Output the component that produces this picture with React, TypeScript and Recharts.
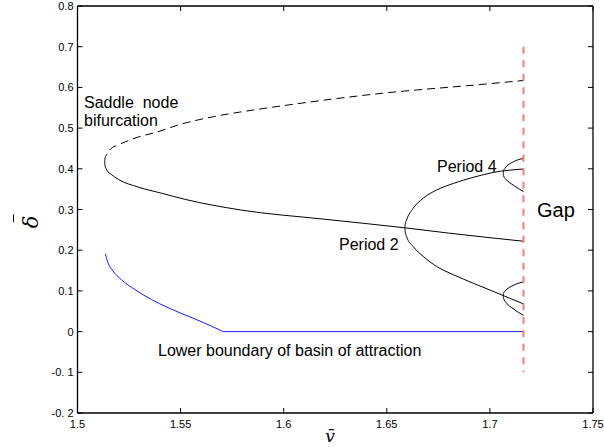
import React from 'react';
import { ComposedChart, Line, XAxis, YAxis, ReferenceLine } from 'recharts';

// ---- axes ----
const xTicks = [1.5, 1.55, 1.6, 1.65, 1.7, 1.75];
const xTickLabels = ['1.5', '1.55', '1.6', '1.65', '1.7', '1.75'];
const yTicks = [-0.2, -0.1, 0, 0.1, 0.2, 0.3, 0.4, 0.5, 0.6, 0.7, 0.8];
const yTickLabels = ['-0. 2', '-0. 1', '0', '0.1', '0.2', '0.3', '0.4', '0.5', '0.6', '0.7', '0.8'];

// ---- series (v, delta) ----
const saddleUpper: [number, number][] = [
  [1.5132, 0.4174], [1.5133, 0.4254], [1.514, 0.4338], [1.5164, 0.4502], [1.5196, 0.4583],
  [1.5253, 0.4706], [1.5309, 0.4804], [1.5374, 0.4885], [1.5497, 0.509], [1.5659, 0.528],
  [1.582, 0.542], [1.5982, 0.554], [1.6467, 0.585], [1.6952, 0.607], [1.7163, 0.617],
];
const saddleLower: [number, number][] = [
  [1.5132, 0.4174], [1.5133, 0.409], [1.5142, 0.397], [1.5164, 0.386], [1.5198, 0.374],
  [1.5295, 0.355], [1.5408, 0.34], [1.5521, 0.325], [1.5789, 0.299], [1.62, 0.276],
  [1.6588, 0.255], [1.68, 0.242], [1.7163, 0.222],
];
const period2Upper: [number, number][] = [
  [1.6588, 0.255], [1.6589, 0.263], [1.6596, 0.2745], [1.6628, 0.303], [1.6677, 0.328],
  [1.6742, 0.348], [1.6823, 0.364], [1.6919, 0.379], [1.7016, 0.391], [1.7163, 0.3995],
];
const period2Lower: [number, number][] = [
  [1.6588, 0.255], [1.6589, 0.247], [1.6596, 0.2336], [1.6628, 0.209], [1.6677, 0.1846],
  [1.6742, 0.16], [1.6823, 0.1397], [1.6919, 0.119], [1.7016, 0.0988], [1.7163, 0.068],
];
const period4UpperA: [number, number][] = [
  [1.7065, 0.389], [1.7066, 0.395], [1.7073, 0.401], [1.7113, 0.417], [1.7163, 0.4255],
];
const period4UpperB: [number, number][] = [
  [1.7065, 0.389], [1.7066, 0.383], [1.7081, 0.3725], [1.7113, 0.36], [1.7163, 0.344],
];
const period4LowerA: [number, number][] = [
  [1.7065, 0.088], [1.7066, 0.094], [1.7073, 0.099], [1.7113, 0.1135], [1.7163, 0.122],
];
const period4LowerB: [number, number][] = [
  [1.7065, 0.088], [1.7066, 0.082], [1.7081, 0.07], [1.7113, 0.056], [1.7163, 0.04],
];
const basinCurve: [number, number][] = [
  [1.5135, 0.191], [1.5148, 0.169], [1.5172, 0.149], [1.5212, 0.128], [1.5277, 0.1037],
  [1.5358, 0.079], [1.5439, 0.059], [1.5497, 0.046], [1.557, 0.031], [1.5707, 0.0],
];
const basinFlat: [number, number][] = [
  [1.5707, 0.0], [1.7163, 0.0],
];
const gapLine: [number, number][] = [
  [1.7163, 0.7], [1.7163, -0.1],
];

const toRows = (pts: [number, number][]) => pts.map(([x, y]) => ({ x, y }));

const FONT = '"Liberation Sans", Arial, Helvetica, sans-serif';

// plot box geometry (layout, not data)
const MARGIN = { top: 6, right: 11, bottom: 0, left: 0 };
const CHART_W = 604;
const CHART_H = 447;
const Y_AXIS_W = 77.5;
const X_AXIS_H = 34;
const PLOT_W = CHART_W - MARGIN.left - MARGIN.right - Y_AXIS_W;
const PLOT_H = CHART_H - MARGIN.top - MARGIN.bottom - X_AXIS_H;
const TICK = 5;

const labelFor = (vals: number[], labels: string[], v: number) => {
  const i = vals.findIndex((t) => Math.abs(t - v) < 1e-9);
  return i >= 0 ? labels[i] : String(v);
};

const XTick = (props: any) => {
  const { x, y, payload } = props;
  return (
    <g>
      <line x1={x} y1={y} x2={x} y2={y - TICK} stroke="#000" strokeWidth={1} />
      <line x1={x} y1={y - PLOT_H} x2={x} y2={y - PLOT_H + TICK} stroke="#000" strokeWidth={1} />
      <text x={x} y={y + 14.5} textAnchor="middle" fontSize={11} fontFamily={FONT} fill="#000">
        {labelFor(xTicks, xTickLabels, payload.value)}
      </text>
    </g>
  );
};
const YTick = (props: any) => {
  const { x, y, payload } = props;
  return (
    <g>
      <line x1={x} y1={y} x2={x + TICK} y2={y} stroke="#000" strokeWidth={1} />
      <line x1={x + PLOT_W} y1={y} x2={x + PLOT_W - TICK} y2={y} stroke="#000" strokeWidth={1} />
      <text x={x - 4} y={y + 4} textAnchor="end" fontSize={11} fontFamily={FONT} fill="#000">
        {labelFor(yTicks, yTickLabels, payload.value)}
      </text>
    </g>
  );
};

const axisLine = { stroke: '#000', strokeWidth: 1.3 };

const blackLine = (pts: [number, number][], key: string, dashed = false) => (
  <Line key={key} data={toRows(pts)} dataKey="y" type="monotone" stroke="#000" strokeWidth={1}
    strokeDasharray={dashed ? '8 5' : undefined}
    dot={false} activeDot={false} isAnimationActive={false} />
);

export default function App() {
  return (
    <div style={{ position: 'absolute', left: 0, top: 0, width: CHART_W, height: CHART_H, background: '#fff' }}>
      <ComposedChart width={CHART_W} height={CHART_H} margin={MARGIN}>
        <XAxis
          type="number"
          dataKey="x"
          domain={[1.5, 1.75]}
          ticks={xTicks}
          allowDataOverflow
          height={X_AXIS_H}
          tickSize={0}
          tickMargin={0}
          tickLine={false}
          axisLine={axisLine}
          tick={<XTick />}
          interval={0}
        />
        <YAxis
          type="number"
          domain={[-0.2, 0.8]}
          ticks={yTicks}
          allowDataOverflow
          width={Y_AXIS_W}
          tickSize={0}
          tickMargin={0}
          tickLine={false}
          axisLine={axisLine}
          tick={<YTick />}
          interval={0}
        />
        <ReferenceLine x={1.75} stroke="#000" strokeWidth={1.3} />
        <ReferenceLine y={0.8} stroke="#000" strokeWidth={1.3} />
        {blackLine(saddleUpper, 'su', true)}
        {blackLine(saddleLower, 'sl')}
        {blackLine(period2Upper, 'p2u')}
        {blackLine(period2Lower, 'p2l')}
        {blackLine(period4UpperA, 'p4ua')}
        {blackLine(period4UpperB, 'p4ub')}
        {blackLine(period4LowerA, 'p4la')}
        {blackLine(period4LowerB, 'p4lb')}
        <Line data={toRows(basinCurve)} dataKey="y" type="monotone" stroke="#1a1aff" strokeWidth={1}
          dot={false} activeDot={false} isAnimationActive={false} />
        <Line data={toRows(basinFlat)} dataKey="y" type="linear" stroke="#1a1aff" strokeWidth={1}
          dot={false} activeDot={false} isAnimationActive={false} />
        <Line data={toRows(gapLine)} dataKey="y" type="linear" stroke="#ff7878" strokeWidth={2}
          strokeDasharray="7 6.5" dot={false} activeDot={false} isAnimationActive={false} />
      </ComposedChart>
      <svg width={CHART_W} height={CHART_H} style={{ position: 'absolute', left: 0, top: 0, pointerEvents: 'none' }}>
        <g fontFamily={FONT} fill="#000" fontSize={16}>
          <text x={84} y={107.5} xmlSpace="preserve">{'Saddle\u00a0 node'}</text>
          <text x={84} y={126}>bifurcation</text>
          <text x={437} y={172}>Period 4</text>
          <text x={339} y={250}>Period 2</text>
          <text x={537} y={216.5} fontSize={20}>Gap</text>
          <text x={158} y={355.5}>Lower boundary of basin of attraction</text>
        </g>
        <text x={330} y={442} textAnchor="middle" fontSize={17} fontStyle="italic"
          fontFamily='"DejaVu Serif", serif'>{'v\u0304'}</text>
        <text transform="translate(37.5,222) rotate(-90)" textAnchor="middle" fontSize={21} fontStyle="italic"
          fontFamily='"DejaVu Serif", serif'>{'\u03B4'}</text>
        <line x1={13.5} y1={214.5} x2={13.5} y2={222} stroke="#000" strokeWidth={1} />
      </svg>
    </div>
  );
}
